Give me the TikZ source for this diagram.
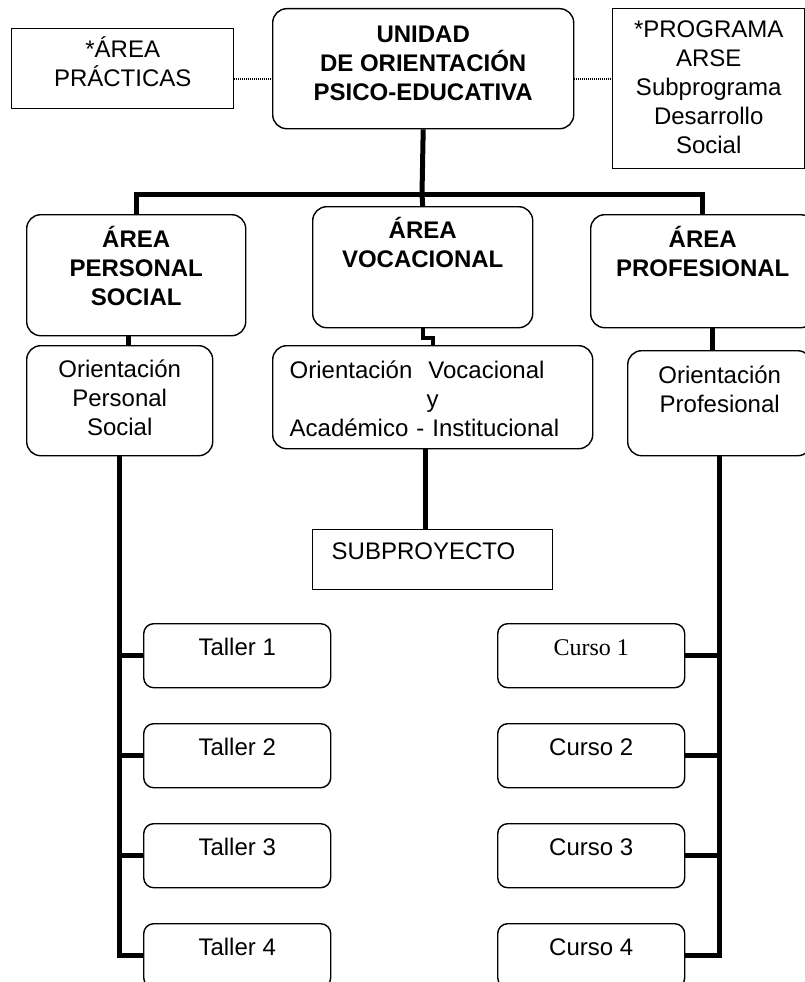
\documentclass[tikz,border=0pt]{standalone}
\usepackage{fontspec}
\setmainfont{Liberation Sans}
\newfontfamily\serifcurso{Liberation Serif}
\usepackage{tikz}
\usetikzlibrary{positioning}
\newcommand\orgfont{\fontsize{24}{29}\selectfont}
\tikzset{every picture/.style={line width=1.4pt}}
\tikzstyle{rbox}=[draw,rounded corners=14pt,align=center,inner sep=0pt,anchor=north west,font=\orgfont]
\tikzstyle{sbox}=[draw,align=center,inner sep=0pt,anchor=north west,font=\orgfont]
\tikzstyle{tbox}=[draw,rounded corners=10pt,inner sep=0pt,anchor=north west,font=\orgfont,minimum width=187pt,text height=32pt,text depth=32pt]
\tikzstyle{titulo}=[font=\orgfont\bfseries]
\tikzstyle{conn}=[line width=5pt]
\tikzstyle{dots}=[line width=2pt,dash pattern=on 1pt off 1pt]
\begin{document}
\begin{tikzpicture}[x=1pt,y=-1pt]
\useasboundingbox (0,0) rectangle (805,982);
\node[sbox,minimum width=222pt,text height=58pt,text depth=22pt] (prac) at (11,28) {*ÁREA\\PRÁCTICAS};
\node[rbox,titulo,minimum width=301pt,text height=92pt,text depth=28pt] (unidad) at (272,8) {UNIDAD\\DE ORIENTACIÓN\\PSICO-EDUCATIVA};
\node[sbox,minimum width=192pt,text height=145pt,text depth=15pt] (prog) at (612,8) {*PROGRAMA\\ARSE\\Subprograma\\Desarrollo\\Social};
\node[rbox,titulo,minimum width=219pt,text height=91pt,text depth=30pt] (aps) at (26,214) {ÁREA\\PERSONAL\\SOCIAL};
\node[rbox,titulo,minimum width=220pt,text height=61pt,text depth=60pt] (avoc) at (312,206) {ÁREA\\VOCACIONAL};
\node[rbox,titulo,minimum width=224pt,text height=62pt,text depth=51pt] (apro) at (590,214) {ÁREA\\PROFESIONAL};
\node[rbox,minimum width=186pt,text height=90pt,text depth=20pt] (ops) at (26,345) {Orientación\\Personal\\Social};
\node[rbox,align=left,text width=286pt,inner xsep=17pt,text height=33pt,text depth=70pt] (ovoc) at (272,345) {Orientación~~Vocacional\\\hspace*{137pt}y\\Académico - Institucional};
\node[rbox,minimum width=184pt,text height=62pt,text depth=43pt] (opro) at (627,350) {Orientación\\Profesional};
\node[sbox,align=left,text width=202pt,inner xsep=19pt,text height=30pt,text depth=30pt] (sub) at (312,529) {SUBPROYECTO};
\foreach \i/\y in {1/623,2/723,3/823,4/923}
  \node[tbox] (t\i) at (143,\y) {Taller \i};
\node[tbox] (c1) at (497,623) {\serifcurso Curso 1};
\foreach \i/\y in {2/723,3/823,4/923}
  \node[tbox] (c\i) at (497,\y) {Curso \i};
\coordinate (bus) at (422,194);
\draw[dots] ([yshift=-10pt]prac.east) -- ([yshift=-10pt]prac.east -| unidad.west);
\draw[dots] ([yshift=-10pt]unidad.east) -- ([yshift=-10pt]unidad.east -| prog.west);
\draw[conn] (unidad.south) -- (bus);
\draw[conn] (aps.north) |- (bus) -| (apro.north);
\draw[conn] (bus) -- (avoc.north);
\draw[conn] ([xshift=-8pt]aps.south) -- ([xshift=-8pt]aps.south |- ops.north);
\draw[line width=4pt] (avoc.south) -- ++(0,10) -| (ovoc.north);
\draw[conn] ([xshift=10pt]apro.south) -- ([xshift=10pt]apro.south |- opro.north);
\draw[conn] ([xshift=-7pt]ovoc.south) -- ([xshift=-7pt]ovoc.south |- sub.north);
\draw[conn] (ops.south) -- (ops.south |- t4.west) -- (t4.west);
\foreach \i in {1,2,3}
  \draw[conn] (t\i.west) -- (t\i.west -| ops.south);
\draw[conn] (opro.south) -- (opro.south |- c4.east) -- (c4.east);
\foreach \i in {1,2,3}
  \draw[conn] (c\i.east) -- (c\i.east -| opro.south);
\end{tikzpicture}
\end{document}
